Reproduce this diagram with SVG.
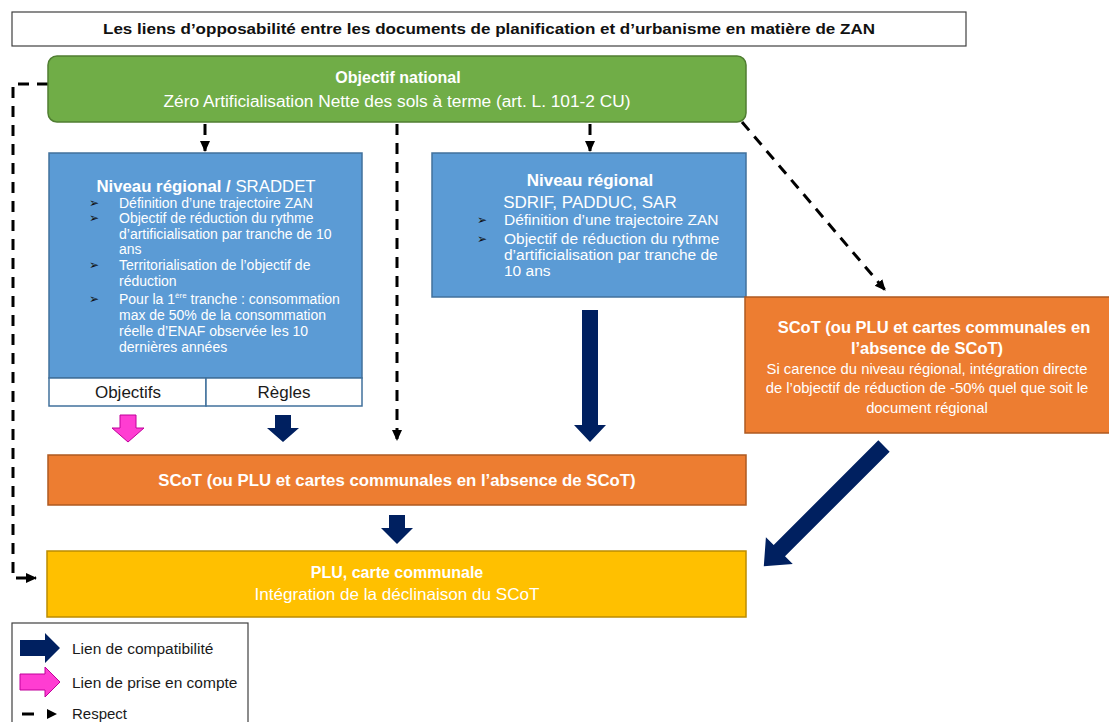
<svg xmlns="http://www.w3.org/2000/svg" width="1109" height="722" viewBox="0 0 1109 722">
<style>
text{font-family:"Liberation Sans",Arial,sans-serif}
.w{fill:#fff}
.b{font-weight:bold}
.c{text-anchor:middle}
.blue{fill:#5B9BD5;stroke:#41719C;stroke-width:1.5}
.org{fill:#ED7D31;stroke:#AE5A21;stroke-width:1.5}
.dash{fill:none;stroke:#000;stroke-width:3;stroke-dasharray:11 8}
.navy{fill:#002060}
.pink{fill:#FF3DD2;stroke:#C0009A;stroke-width:1}
.blt{font-family:"DejaVu Sans",sans-serif;fill:#111;font-size:12px}
</style>
<defs>
<marker id="ah" markerWidth="12" markerHeight="12" refX="10" refY="6" orient="auto" markerUnits="userSpaceOnUse">
<path d="M0,1 L11,6 L0,11 Z" fill="#000"/>
</marker>
</defs>

<g id="title">
<rect x="12" y="12" width="954" height="34" fill="#fff" stroke="#404040" stroke-width="1.2"/>
<text x="489" y="34" class="b c" font-size="15" fill="#111" textLength="772" lengthAdjust="spacingAndGlyphs">Les liens d’opposabilité entre les documents de planification et d’urbanisme en matière de ZAN</text>
</g>

<g id="connectors">
<path class="dash" d="M48,84 H13 V578 H36" marker-end="url(#ah)"/>
<path class="dash" d="M205,124 V151" stroke-dasharray="12 6" marker-end="url(#ah)"/>
<path class="dash" d="M590,124 V151" stroke-dasharray="12 6" marker-end="url(#ah)"/>
<path class="dash" d="M397,124 V440" stroke-dasharray="12 14" marker-end="url(#ah)"/>
<path class="dash" d="M742,122 L885,290" marker-end="url(#ah)"/>
<polygon class="pink" points="120,415 136,415 136,428 144,428 128,442 112,428 120,428"/>
<polygon class="navy" points="275,415 291,415 291,428 299,428 283,442 267,428 275,428"/>
<polygon class="navy" points="582,310 598,310 598,425 606,425 590,442 574,425 582,425"/>
<polygon class="navy" points="389,515 405,515 405,528 413,528 397,544 381,528 389,528"/>
<polygon class="navy" transform="translate(884,446) rotate(45)" points="-8,0 8,0 8,148 19,148 0,170 -19,148 -8,148"/>
</g>

<g id="national">
<rect x="48" y="56" width="698" height="66" rx="9" fill="#70AD47" stroke="#507E32" stroke-width="1.5"/>
<text x="398" y="83" class="w b c" font-size="16">Objectif national</text>
<text x="397" y="107" class="w c" font-size="16" textLength="467" lengthAdjust="spacingAndGlyphs">Zéro Artificialisation Nette des sols à terme (art. L. 101-2 CU)</text>
</g>

<g id="sraddet">
<rect x="49" y="153" width="313" height="225" class="blue"/>
<text x="206" y="192" class="w c" font-size="16.8"><tspan class="b">Niveau régional / </tspan>SRADDET</text>
<g font-size="14" class="w">
<text x="89" y="207" class="blt">➢</text><text x="119" y="208">Définition d’une trajectoire ZAN</text>
<text x="89" y="222" class="blt">➢</text><text x="119" y="223">Objectif de réduction du rythme</text>
<text x="119" y="239">d’artificialisation par tranche de 10</text>
<text x="119" y="254">ans</text>
<text x="89" y="269" class="blt">➢</text><text x="119" y="270">Territorialisation de l’objectif de</text>
<text x="119" y="286">réduction</text>
<text x="89" y="303" class="blt">➢</text><text x="119" y="304">Pour la 1<tspan font-size="8" dy="-6">ère</tspan><tspan dy="6"> tranche : consommation</tspan></text>
<text x="119" y="320">max de 50% de la consommation</text>
<text x="119" y="336">réelle d’ENAF observée les 10</text>
<text x="119" y="352">dernières années</text>
</g>
<rect x="49" y="378" width="157" height="28" fill="#fff" stroke="#41719C" stroke-width="1.5"/>
<rect x="206" y="378" width="156" height="28" fill="#fff" stroke="#41719C" stroke-width="1.5"/>
<text x="128" y="398" class="c" font-size="17" fill="#1a1a1a">Objectifs</text>
<text x="284" y="398" class="c" font-size="17" fill="#1a1a1a">Règles</text>
</g>

<g id="sdrif">
<rect x="432" y="153" width="314" height="144" class="blue"/>
<text x="590" y="186" class="w b c" font-size="17">Niveau régional</text>
<text x="590" y="208" class="w c" font-size="17">SDRIF, PADDUC, SAR</text>
<g font-size="15.5" class="w">
<text x="477" y="224" class="blt">➢</text><text x="504" y="225">Définition d’une trajectoire ZAN</text>
<text x="477" y="243" class="blt">➢</text><text x="504" y="244">Objectif de réduction du rythme</text>
<text x="504" y="260">d’artificialisation par tranche de</text>
<text x="504" y="276">10 ans</text>
</g>
</g>

<g id="scot-right">
<rect x="745" y="297" width="370" height="136" class="org"/>
<text x="934" y="333" class="w b c" font-size="16.5">SCoT (ou PLU et cartes communales en</text>
<text x="927" y="354" class="w b c" font-size="16.5">l’absence de SCoT)</text>
<g font-size="14.8" class="w c">
<text x="927" y="374">Si carence du niveau régional, intégration directe</text>
<text x="927" y="393">de l’objectif de réduction de -50% quel que soit le</text>
<text x="927" y="413">document régional</text>
</g>
</g>

<g id="scot">
<rect x="48" y="455" width="698" height="50" class="org"/>
<text x="397" y="486" class="w b c" font-size="16.8">SCoT (ou PLU et cartes communales en l’absence de SCoT)</text>
</g>

<g id="plu">
<rect x="47" y="551" width="699" height="66" fill="#FFC000" stroke="#BC8C00" stroke-width="1.5"/>
<text x="397" y="578" class="w b c" font-size="16">PLU, carte communale</text>
<text x="397" y="600" class="w c" font-size="16.5" textLength="285" lengthAdjust="spacingAndGlyphs">Intégration de la déclinaison du SCoT</text>
</g>

<g id="legend">
<rect x="12" y="623" width="236" height="105" fill="#fff" stroke="#404040" stroke-width="1.2"/>
<polygon class="navy" points="20,640 45,640 45,633 60,648 45,663 45,656 20,656"/>
<text x="72" y="654" font-size="15.5" fill="#1a1a1a">Lien de compatibilité</text>
<polygon class="pink" points="20,674 45,674 45,667 60,682 45,697 45,690 20,690"/>
<text x="72" y="688" font-size="15.5" fill="#1a1a1a">Lien de prise en compte</text>
<line x1="22" y1="714" x2="34" y2="714" stroke="#000" stroke-width="3"/>
<path d="M47,709 L57,714 L47,719 Z" fill="#000"/>
<text x="72" y="719" font-size="15" fill="#1a1a1a">Respect</text>
</g>
</svg>
